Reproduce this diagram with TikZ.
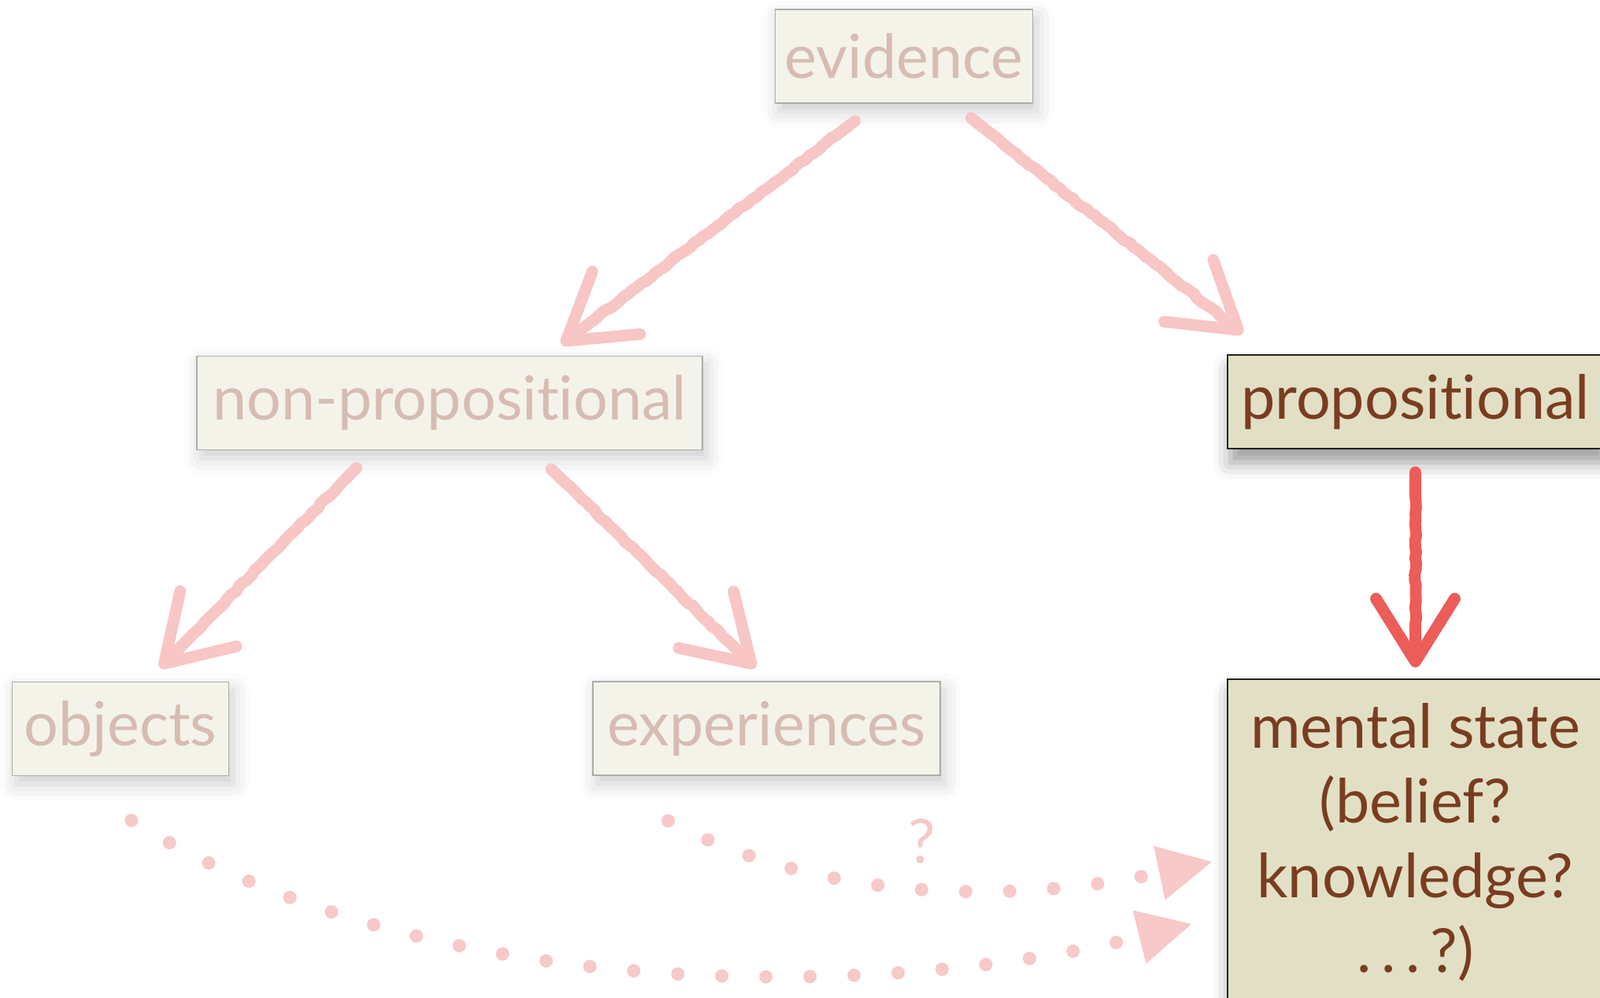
\documentclass[tikz,border=0pt]{standalone}
\usepackage{fontspec}
\setmainfont{Lato}[Ligatures=NoCommon]
\usepackage{tikz}
\usetikzlibrary{positioning,arrows.meta,decorations.pathmorphing,shadows.blur}

\definecolor{paleFill}{RGB}{244,243,234}
\definecolor{paleText}{RGB}{214,188,178}
\definecolor{paleEdge}{RGB}{172,172,168}
\definecolor{darkFill}{RGB}{226,224,196}
\definecolor{darkText}{RGB}{122,60,32}
\definecolor{darkEdge}{RGB}{35,35,30}
\definecolor{chalkPink}{RGB}{247,198,197}
\definecolor{chalkRed}{RGB}{236,92,88}
\definecolor{dotPink}{RGB}{247,201,200}

\begin{document}
\begin{tikzpicture}[
    % --- box styles ---
    pale/.style={draw=paleEdge, fill=paleFill, text=paleText, line width=0.5pt,
                 inner sep=0pt, minimum height=1.19cm, font=\fontsize{22pt}{27pt}\selectfont,
                 blur shadow={shadow xshift=1.5pt, shadow yshift=-3pt, shadow blur radius=6pt, shadow opacity=20}},
    dark/.style={draw=darkEdge, fill=darkFill, text=darkText, line width=0.6pt,
                 inner sep=0pt, minimum height=1.19cm, font=\fontsize{22pt}{27pt}\selectfont,
                 blur shadow={shadow xshift=1pt, shadow yshift=-5pt, shadow blur radius=6pt, shadow opacity=40}},
    % --- arrow styles ---
    chalk/.style={draw=chalkPink, line width=4.2pt, line cap=round, line join=round,
                  decorate, decoration={random steps, segment length=2pt, amplitude=0.35pt,
                                        pre length=0.6cm, post length=0.7cm},
                  -{Straight Barb[round, length=0.8cm, width=1.0cm]}},
    dotline/.style={draw=dotPink, line width=0.17cm, line cap=round, dash pattern=on 0pt off 0.56cm,
                    -{Triangle[length=0.68cm, width=0.7cm, line width=0pt]}},
    % --- label style ---
    qmark/.style={text=dotPink, inner sep=0pt, font=\fontsize{22pt}{26pt}\selectfont},
]

\useasboundingbox (0,0) rectangle (20.32,-12.68);

%% ---- BOXES ----
\node[pale, minimum width=3.27cm] (evid) at (11.48,-0.715) {evidence};
\node[pale, minimum width=6.42cm] (nonprop) at (5.71,-5.12) {non-propositional};
\node[dark, minimum width=4.77cm] (prop) at (17.975,-5.105) {propositional};
\node[pale, minimum width=2.75cm] (obj) at (1.53,-9.26) {objects};
\node[pale, minimum width=4.41cm] (exper) at (9.735,-9.255) {experiences};
\node[dark, minimum width=4.77cm, minimum height=4.14cm, align=center] (ment) at (17.975,-10.70)
    {mental state\\(belief?\\knowledge?\\.\,.\,.\,?)};

%% ---- CHALK ARROWS ----
\draw[chalk, shorten <=0.36cm, shorten >=0.23cm] (evid.241) -- (nonprop.26);
\draw[chalk, shorten <=0.29cm, shorten >=0.42cm] (evid.316) -- (prop.162);
\draw[chalk, shorten <=0.31cm, shorten >=0.24cm] (nonprop.212) -- (obj.61);
\draw[chalk, shorten <=0.34cm, shorten >=0.24cm] (nonprop.330) -- (exper.87);
\draw[chalk, draw=chalkRed, shorten <=0.29cm, shorten >=0.14cm] (prop.south) -- (ment.north);

%% ---- DOTTED ARROWS ----
\draw[dotline] ([xshift=-1.25cm,yshift=-0.57cm]exper.south)
    to[out=-28, in=192, out distance=2.2cm, in distance=2.6cm]
    node[qmark, pos=0.5, above=0.22cm] (qm) {?}
    ([xshift=-0.19cm,yshift=-0.25cm]ment.west);
\draw[dotline] ([xshift=0.14cm,yshift=-0.56cm]obj.south)
    to[out=-32, in=194, out distance=4.6cm, in distance=3.8cm]
    ([xshift=-0.45cm,yshift=-1.04cm]ment.west);

\end{tikzpicture}
\end{document}
